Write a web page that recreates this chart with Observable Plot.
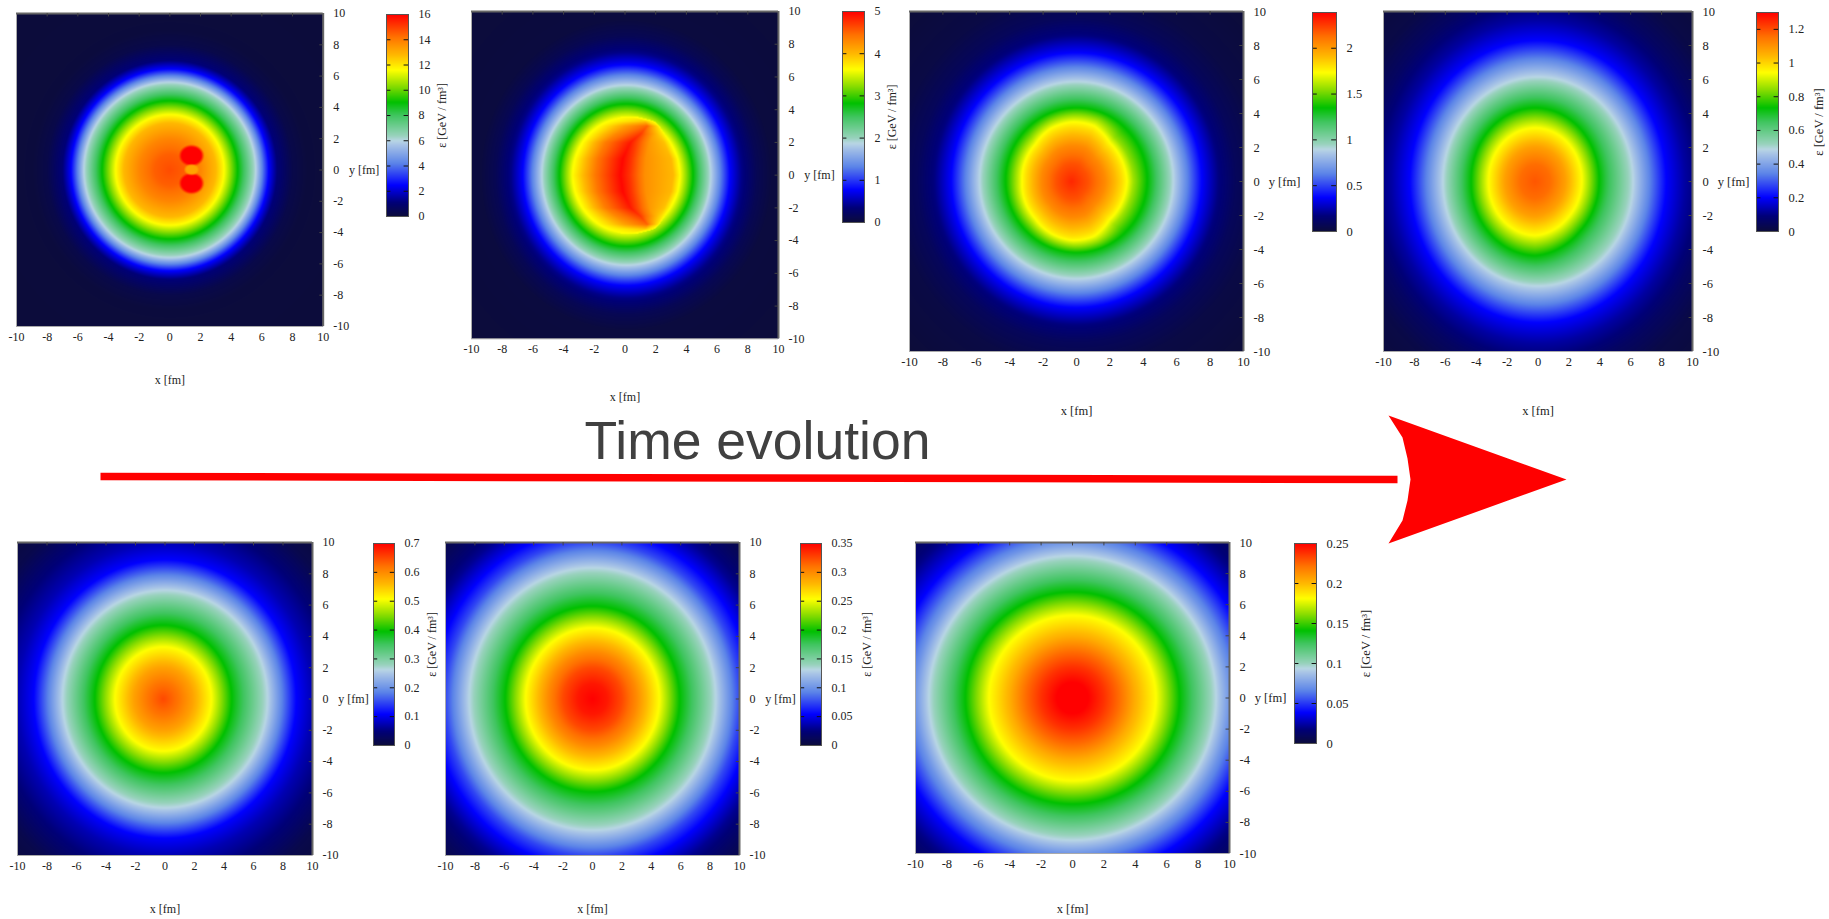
<!DOCTYPE html>
<html>
<head>
<meta charset="utf-8">
<style>
html,body{margin:0;padding:0;background:#fff;overflow:hidden}
#page{position:relative;width:1829px;height:919px;overflow:hidden}
#page svg{position:absolute;max-width:none}
</style>
<script src="https://cdn.jsdelivr.net/npm/d3@7"></script>
<script src="https://cdn.jsdelivr.net/npm/@observablehq/plot@0.6"></script>
</head>
<body>
<div id="page"></div>
<script>
// ---- axis ticks
const axisTicks = [-10,-8,-6,-4,-2,0,2,4,6,8,10];

// ---- colour palette (fraction of the colour-bar height -> colour)
const paletteStops  = [0, 0.07, 0.155, 0.265, 0.355, 0.375, 0.40, 0.43, 0.50, 0.565, 0.645, 0.725, 0.80, 0.89, 1];
const paletteColors = ["#0c0c3a","#000078","#0000ff","#5c85e8","#a8c4e6","#b8d6e4","#98d2bc","#7dcfa0","#40c560","#00c000","#88dc00","#ffff00","#ffb800","#ff7000","#ff0000"];

// ---- colour-bar ranges and ticks
const barMax = [16, 5, 2.39, 1.3, 0.7, 0.35, 0.25];
const barTicks = [
  [0,2,4,6,8,10,12,14,16],
  [0,1,2,3,4,5],
  [0,0.5,1,1.5,2],
  [0,0.2,0.4,0.6,0.8,1,1.2],
  [0,0.1,0.2,0.3,0.4,0.5,0.6,0.7],
  [0,0.05,0.1,0.15,0.2,0.25,0.3,0.35],
  [0,0.05,0.1,0.15,0.2,0.25]
];

// ---- radial energy-density profiles (fm, GeV/fm^3)
const radii1  = [0,1,2,3,3.54,4.42,5.6,6.45,7,8,9,15];
const energy1 = [14.8,14.5,13.8,12.8,11.6,9.04,6.0,2.48,1.1,0.3,0.05,0];
const radii2  = [0,3.5,4.35,5.5,6.75,7.5,8.5,9.5,15];
const energy2 = [3.625,3.625,2.825,1.875,0.775,0.4,0.15,0.03,0];
const radii3  = [0,1,2,3,3.3,4.25,5.8,7.5,8.5,9.5,11,14];
const energy3 = [2.3,2.2,2.05,1.82,1.733,1.35,0.896,0.37,0.18,0.09,0.03,0];
const radii4  = [0,1,2,3.1,4.25,6.15,8.3,9.5,11,12.5,15];
const energy4 = [1.19,1.16,1.08,0.9425,0.7345,0.4875,0.2015,0.125,0.06,0.02,0];
const radii5  = [0,1,2,3.3,4.68,6.95,8.9,10,11.5,13,15];
const energy5 = [0.65,0.62,0.58,0.5075,0.3955,0.2625,0.1085,0.075,0.045,0.015,0];
const radii6  = [0,1,2,3,4.55,5.93,8.38,10,10.8,12,13,14.2];
const energy6 = [0.35,0.342,0.325,0.3,0.2538,0.1978,0.1313,0.075,0.0543,0.03,0.018,0.006];
const radii7  = [0,1,2,3,4,5.33,6.83,9.13,10,11.5,13,14.2];
const energy7 = [0.252,0.25,0.238,0.223,0.203,0.181,0.141,0.094,0.072,0.039,0.02,0.01];

// ---- radius of the yellow contour per direction (0,22.5,...337.5 deg)
const yellow3 = [3.32,3.26,3.24,3.54,3.5,3.35,3.08,3.02,2.96,3.02,3.08,3.3,3.5,3.5,3.2,3.25];
const yellow4 = [3.02,3.05,3.1,3.14,3.16,3.14,3.1,3.05,3.02,3.05,3.09,3.14,3.18,3.08,3.0,3.0];
const yellow5 = [3.27,3.28,3.3,3.32,3.33,3.32,3.3,3.28,3.27,3.28,3.3,3.32,3.33,3.32,3.3,3.28];

// ---- panel 1: hot spots (x, y, rx, ry, energy)
const spotX = [1.42,1.42,1.42];
const spotY = [0.92,-0.86,0.02];
const spotRx = [0.76,0.76,0.46];
const spotRy = [0.64,0.64,0.34];
const spotE = [16.6,16.6,13.2];

// ---- panel 2: crescent-shaped front, read row by row (|y|, x knots, energy knots)
const frontY = [0,1,2,2.5,3,3.3,3.55];
const frontX = [
  [-3.45,-1.9,-0.3,0.3,1.3,3.15,3.6],
  [-3.25,-1.75,-0.15,0.4,1.35,3.0,3.45],
  [-2.75,-1.25,0.35,0.8,1.6,2.55,2.95],
  [-2.3,-0.6,1.0,1.3,1.9,2.3,2.6],
  [-1.7,0,1.45,1.65,2.0,2.1,2.25],
  [-1.1,0,1.3,1.4,1.5,1.7,1.9],
  [-0.3,0,0.3,0.38,0.45,0.6,0.9]
];
const frontE = [
  [3.625,4.42,4.97,4.75,4.25,4.0,3.625],
  [3.625,4.42,4.97,4.75,4.25,4.0,3.625],
  [3.625,4.38,4.88,4.65,4.2,3.95,3.625],
  [3.625,4.3,4.72,4.5,4.1,3.85,3.625],
  [3.625,4.15,4.5,4.25,3.9,3.8,3.625],
  [3.625,3.75,3.9,3.85,3.78,3.7,3.625],
  [3.625,3.625,3.625,3.625,3.625,3.625,3.625]
];

// ---- arrow and heading
const shaftX = [100,1397];
const shaftY = [476,479];
const headX = [1388,1402,1407,1410,1407,1402,1388,1566];
const headY = [415,437,458,479,500,520,543,479];
const heading = ["Time evolution"];

// ---- layout of each panel
const frames = [
  {l:16,  r:322.7, t:13,   b:326, bl:386,  br:408,  bt:14,  bb:216, xd:54, ed:34, rr:radii1, ee:energy1, c:[0,0], font:12},
  {l:471, r:778,   t:10.7, b:338, bl:842,  br:864,  bt:11,  bb:222, xd:58, ed:28, rr:radii2, ee:energy2, c:[0.08,0], font:12},
  {l:909, r:1243,  t:11,   b:351, bl:1312, br:1336, bt:12,  bb:231, xd:59, ed:44, rr:radii3, ee:energy3, c:[0,0.08], cc:[-0.3,0], core:yellow3, ref:3.3, from:3.4, to:4.3, font:12.5},
  {l:1383,r:1692,  t:11,   b:351, bl:1756, br:1778, bt:12,  bb:231, xd:59, ed:40, rr:radii4, ee:energy4, c:[0,0], cc:[-0.18,0], core:yellow4, ref:3.1, from:4.4, to:6.1, font:12.5, white:true},
  {l:17,  r:312,   t:542,  b:855, bl:373,  br:394,  bt:543, bb:745, xd:54, ed:38, rr:radii5, ee:energy5, c:[0,0], cc:[-0.12,0], core:yellow5, ref:3.3, from:4.8, to:6.9, font:12},
  {l:445, r:739,   t:542,  b:855, bl:800,  br:821,  bt:543, bb:745, xd:54, ed:46, rr:radii6, ee:energy6, c:[0,0], font:12},
  {l:915, r:1229,  t:542,  b:853, bl:1294, br:1316, bt:543, bb:743, xd:55, ed:49, rr:radii7, ee:energy7, c:[0,0], font:12.5}
];

const clamp01 = v => Math.max(0, Math.min(1, v));
const lerp = (a, b, t) => a + (b - a) * t;

function coreStretch(table, ref, angle) {
  const n = table.length;
  const p = ((angle / (2 * Math.PI)) % 1 + 1) % 1 * n;
  const i = Math.floor(p) % n, j = (i + 1) % n;
  return lerp(table[i], table[j], p - Math.floor(p)) / ref;
}

function frontEnergy(x, y) {
  const a = Math.abs(y);
  if (a > frontY[frontY.length - 1]) return null;
  let i = 0;
  while (i < frontY.length - 2 && a > frontY[i + 1]) i++;
  const t = (a - frontY[i]) / (frontY[i + 1] - frontY[i]);
  const kx = frontX[i].map((v, k) => lerp(v, frontX[i + 1][k], t));
  const ke = frontE[i].map((v, k) => lerp(v, frontE[i + 1][k], t));
  if (x < kx[0] || x > kx[kx.length - 1]) return null;
  return d3.scaleLinear(kx, ke)(x);
}

function sampler(index) {
  const f = frames[index];
  const profile = d3.scaleLinear(f.rr, f.ee).clamp(true);
  return (x, y) => {
    let cx = f.c[0], cy = f.c[1], s = 1;
    if (f.core) {
      const r0 = Math.hypot(x - f.c[0], y - f.c[1]);
      const w = clamp01((r0 - f.from) / (f.to - f.from));
      cx = lerp(f.cc[0], f.c[0], w);
      cy = lerp(f.cc[1], f.c[1], w);
      s = lerp(coreStretch(f.core, f.ref, Math.atan2(y - cy, x - cx)), 1, w);
    }
    let v = profile(Math.hypot(x - cx, y - cy) / s);
    if (index === 0) {
      spotX.forEach((sx, k) => {
        const d = Math.hypot((x - sx) / spotRx[k], (y - spotY[k]) / spotRy[k]);
        v = lerp(v, spotE[k], clamp01((1.12 - d) / 0.36));
      });
    }
    if (index === 1) {
      const m = frontEnergy(x, y);
      if (m !== null) v = Math.max(v, m);
    }
    return v / barMax[index];
  };
}

const page = document.getElementById("page");
const SERIF = "'Liberation Serif','Times New Roman',serif";
const colorScale = {type:"linear", domain:paletteStops, range:paletteColors, clamp:true};

function place(svg, left, top) {
  svg.style.left = left + "px";
  svg.style.top = top + "px";
  page.appendChild(svg);
}

frames.forEach((f, i) => {
  const ml = 10, mt = 5, mr = 60, mb = 70;
  const inner = axisTicks.slice(1, -1);
  const chart = Plot.plot({
    width: (f.r - f.l) + ml + mr,
    height: (f.b - f.t) + mt + mb,
    marginLeft: ml, marginRight: mr, marginTop: mt, marginBottom: mb,
    style: {fontFamily: SERIF, fontSize: f.font + "px", color: "#222", overflow: "visible", background: f.white ? "white" : "transparent"},
    x: {domain: [-10, 10]},
    y: {domain: [-10, 10]},
    color: colorScale,
    marks: [
      Plot.raster({fill: sampler(i), x1: -10, x2: 10, y1: -10, y2: 10, pixelSize: 1}),
      Plot.ruleX([-10], {stroke: "#aaa", strokeWidth: 1}),
      Plot.ruleY([-10], {stroke: "#aaa", strokeWidth: 1}),
      Plot.ruleY([10], {stroke: "#666", strokeWidth: 2}),
      Plot.ruleX([10], {stroke: "#666", strokeWidth: 2}),
      Plot.ruleX(inner, {x: d => d, y1: 10, y2: 9.78, stroke: "#444"}),
      Plot.ruleY(inner, {y: d => d, x1: 10, x2: 9.78, stroke: "#444"}),
      Plot.axisX(axisTicks, {anchor: "bottom", label: null, tickSize: 0, tickPadding: 6, tickFormat: d => String(d), fontSize: f.font}),
      Plot.axisY(axisTicks, {anchor: "right", label: null, tickSize: 0, tickPadding: 10, tickFormat: d => String(d), fontSize: f.font}),
      Plot.text(["x [fm]"], {frameAnchor: "bottom", lineAnchor: "middle", dy: f.xd, fontSize: f.font}),
      Plot.text(["y [fm]"], {frameAnchor: "right", textAnchor: "middle", dx: 41, fontSize: f.font})
    ]
  });
  place(chart, f.l - ml, f.t - mt);

  const M = barMax[i];
  const ticks = barTicks[i];
  const interior = ticks.filter(t => t > 0 && t < M);
  const bar = Plot.plot({
    width: (f.br - f.bl) + 70,
    height: (f.bb - f.bt) + 20,
    marginLeft: 0, marginRight: 70, marginTop: 10, marginBottom: 10,
    style: {fontFamily: SERIF, fontSize: f.font + "px", color: "#222", overflow: "visible", background: "transparent"},
    x: {domain: [0, 1], axis: null},
    y: {domain: [0, M]},
    color: colorScale,
    marks: [
      Plot.raster({fill: (x, y) => y / M, x1: 0, x2: 1, y1: 0, y2: M, pixelSize: 1}),
      Plot.ruleY(interior, {y: d => d, x1: 0, x2: 0.2, stroke: "#111"}),
      Plot.ruleY(interior, {y: d => d, x1: 0.8, x2: 1, stroke: "#111"}),
      Plot.frame({stroke: "#555", strokeWidth: 1}),
      Plot.axisY(ticks, {anchor: "right", label: null, tickSize: 0, tickPadding: 10, tickFormat: d => String(d), fontSize: f.font}),
      Plot.text(["ε [GeV / fm³]"], {frameAnchor: "right", textAnchor: "middle", lineAnchor: "middle", dx: f.ed, rotate: -90, fontSize: f.font})
    ]
  });
  place(bar, f.bl, f.bt - 10);
});

const overlay = Plot.plot({
  width: 1829, height: 919,
  margin: 0,
  style: {background: "transparent", overflow: "visible"},
  x: {domain: [0, 1829], axis: null},
  y: {domain: [919, 0], axis: null},
  marks: [
    Plot.line(shaftX.map((x, k) => ({x, y: shaftY[k]})), {x: "x", y: "y", stroke: "#ff0000", strokeWidth: 7.5, strokeLinecap: "butt"}),
    Plot.line(headX.map((x, k) => ({x, y: headY[k]})), {x: "x", y: "y", fill: "#ff0000", stroke: "none"}),
    Plot.text(heading, {x: 757, y: 441, fontSize: 53.5, fill: "#404040", fontFamily: "'Liberation Sans',Arial,sans-serif"})
  ]
});
place(overlay, 0, 0);
</script>
</body>
</html>
